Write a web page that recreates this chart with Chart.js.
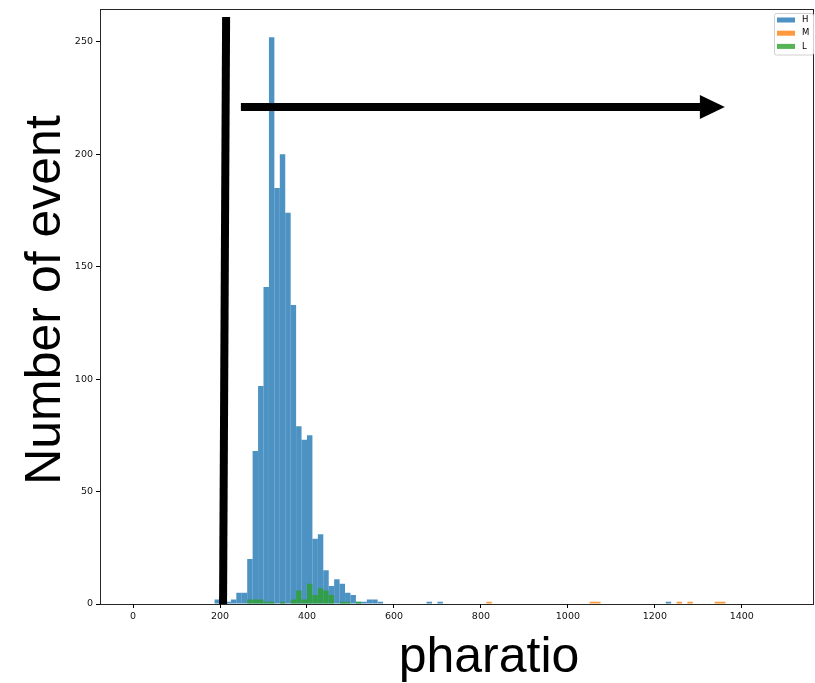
<!DOCTYPE html>
<html>
<head>
<meta charset="utf-8">
<script src="https://cdn.jsdelivr.net/npm/chart.js@4.4.0/dist/chart.umd.min.js"></script>
<style>
  body { margin: 0; background: #fff; }
  #wrap { width: 815px; height: 683px; }
</style>
</head>
<body>
<div id="wrap"><canvas id="histChart" width="815" height="683"></canvas></div>
<script>
// histogram bins (left edge) and counts
const binWidth = 12.5;
const seriesLabels = ['H', 'M', 'L'];

const hBins = [187.5, 200, 212.5, 225, 237.5, 250, 262.5, 275, 287.5, 300, 312.5, 325, 337.5, 350, 362.5,
  375, 387.5, 400, 412.5, 425, 437.5, 450, 462.5, 475, 487.5, 500, 512.5, 525, 537.5, 550, 562.5, 675, 700, 1225];
const hCounts = [2, 1, 1, 2, 5, 5, 20, 68, 97, 141, 252, 185, 200, 174, 133,
  79, 73, 75, 29, 31, 15, 8, 11, 9, 5, 4, 1, 1, 2, 2, 1, 1, 1, 1];

const mBins = [812.5, 1050, 1062.5, 1250, 1275, 1337.5, 1350];
const mCounts = [1, 1, 1, 1, 1, 1, 1];

const lBins = [262.5, 275, 287.5, 300, 312.5, 337.5, 362.5, 375, 387.5, 400, 412.5, 425, 437.5, 450, 475, 487.5, 512.5];
const lCounts = [2, 2, 2, 1, 1, 1, 2, 6, 2, 9, 4, 7, 6, 4, 1, 1, 1];

const xTicks = [0, 200, 400, 600, 800, 1000, 1200, 1400];
const yTicks = [0, 50, 100, 150, 200, 250];

const xTitle = 'pharatio';
const yTitle = 'Number of event';

// the two hand-drawn black marks, in data units
const cutLine = { x: [214, 207], y: [261, 0] };
const arrowLine = { x: [248, 1361], y: [221, 221] };

const colors = ['rgba(31,119,180,0.8)', 'rgba(255,127,14,0.8)', 'rgba(44,160,44,0.8)'];

function toPoints(bins, counts) {
  return bins.map((b, i) => ({ x: b + binWidth / 2, y: counts[i] }));
}

const extras = {
  id: 'extras',
  afterDatasetsDraw(chart) {
    const ctx = chart.ctx;
    const a = chart.chartArea;
    const xs = chart.scales.x, ys = chart.scales.y;
    ctx.save();
    // axes frame
    ctx.strokeStyle = 'rgba(0,0,0,0.85)';
    ctx.lineWidth = 1;
    ctx.strokeRect(a.left + 0.5, a.top + 0.5, a.right - a.left - 1, a.bottom - a.top);

    // black marks
    ctx.strokeStyle = '#000';
    ctx.fillStyle = '#000';
    ctx.lineWidth = 8;
    ctx.lineCap = 'butt';
    ctx.beginPath();
    ctx.moveTo(xs.getPixelForValue(cutLine.x[0]), ys.getPixelForValue(cutLine.y[0]));
    ctx.lineTo(xs.getPixelForValue(cutLine.x[1]), ys.getPixelForValue(cutLine.y[1]));
    ctx.stroke();

    const x0 = xs.getPixelForValue(arrowLine.x[0]);
    const x1 = xs.getPixelForValue(arrowLine.x[1]);
    const y0 = ys.getPixelForValue(arrowLine.y[0]);
    const head = 25;
    ctx.beginPath();
    ctx.moveTo(x0, y0);
    ctx.lineTo(x1 - head + 2, y0);
    ctx.stroke();
    ctx.beginPath();
    ctx.moveTo(x1, y0);
    ctx.lineTo(x1 - head, y0 - 12);
    ctx.lineTo(x1 - head, y0 + 12);
    ctx.closePath();
    ctx.fill();
    ctx.restore();
  },
  afterDraw(chart) {
    const ctx = chart.ctx;
    ctx.save();
    ctx.fillStyle = '#000';
    ctx.font = '50px "Liberation Sans", Arial, sans-serif';
    ctx.textAlign = 'center';
    ctx.textBaseline = 'alphabetic';
    ctx.fillText(xTitle, 489, 672);
    ctx.translate(60, 300);
    ctx.rotate(-Math.PI / 2);
    ctx.fillText(yTitle, 0, 0);
    ctx.restore();

    // legend, top right inside the axes
    ctx.save();
    ctx.fillStyle = 'rgba(255,255,255,0.8)';
    ctx.strokeStyle = '#d0d0d0';
    ctx.lineWidth = 1;
    ctx.beginPath();
    ctx.roundRect(774.5, 13.5, 39, 41.5, 2);
    ctx.fill();
    ctx.stroke();
    ctx.font = '8.5px "DejaVu Sans", sans-serif';
    ctx.textAlign = 'left';
    ctx.textBaseline = 'middle';
    chart.data.datasets.forEach((ds, i) => {
      const cy = 20 + i * 13.2;
      ctx.fillStyle = ds.backgroundColor;
      ctx.fillRect(777, cy - 2.5, 18, 5);
      ctx.fillStyle = '#000';
      ctx.fillText(ds.label, 802, cy);
    });
    ctx.restore();
  }
};

const tickFont = { family: '"DejaVu Sans", sans-serif', size: 9.5 };

new Chart(document.getElementById('histChart'), {
  type: 'bar',
  data: {
    datasets: [
      { label: seriesLabels[0], data: toPoints(hBins, hCounts), backgroundColor: colors[0], order: 2 },
      { label: seriesLabels[1], data: toPoints(mBins, mCounts), backgroundColor: colors[1], order: 1 },
      { label: seriesLabels[2], data: toPoints(lBins, lCounts), backgroundColor: colors[2], order: 0 }
    ]
  },
  options: {
    responsive: false,
    animation: false,
    grouped: false,
    barPercentage: 1,
    categoryPercentage: 1,
    borderWidth: 0,
    inflateAmount: 0,
    layout: { padding: { top: 9, right: 1, left: 0, bottom: 0 } },
    plugins: { legend: { display: false }, tooltip: { enabled: false } },
    scales: {
      x: {
        type: 'linear',
        offset: false,
        min: -76,
        max: 1566,
        afterBuildTicks: axis => { axis.ticks = xTicks.map(v => ({ value: v })); },
        afterFit: axis => { axis.height = 79; },
        ticks: { font: tickFont, color: '#111', padding: 3, maxRotation: 0, callback: v => String(v) },
        grid: { offset: false, drawOnChartArea: false, color: '#000', tickLength: 4 },
        border: { display: false }
      },
      y: {
        min: 0,
        max: 264.6,
        afterBuildTicks: axis => { axis.ticks = yTicks.map(v => ({ value: v })); },
        afterFit: axis => { axis.width = 100; },
        ticks: { font: tickFont, color: '#111', padding: 3, callback: v => String(v) },
        grid: { offset: false, drawOnChartArea: false, color: '#000', tickLength: 4 },
        border: { display: false }
      }
    }
  },
  plugins: [extras]
});
</script>
</body>
</html>
